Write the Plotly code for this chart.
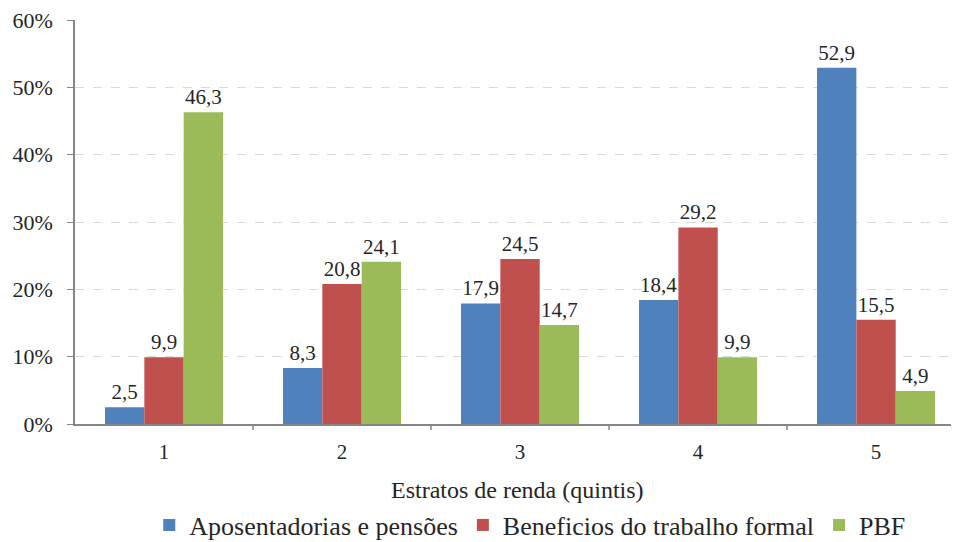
import plotly.graph_objects as go

quintis = ["1", "2", "3", "4", "5"]
aposentadorias = [2.5, 8.3, 17.9, 18.4, 52.9]
beneficios_formal = [9.9, 20.8, 24.5, 29.2, 15.5]
pbf = [46.3, 24.1, 14.7, 9.9, 4.9]

series = [
    ("Aposentadorias e pensões", aposentadorias, "#4F81BD"),
    ("Beneficios do trabalho formal", beneficios_formal, "#C0504D"),
    ("PBF", pbf, "#9BBB59"),
]

fonte = "Liberation Serif"

fig = go.Figure()
for nome, valores, cor in series:
    fig.add_trace(go.Bar(
        name=nome, x=quintis, y=valores,
        marker=dict(color=cor, line=dict(width=0)),
        texttemplate="%{y:.1f}", textposition="outside",
        textfont=dict(family=fonte, size=21, color="#262626"),
        cliponaxis=False,
    ))

# a página tem margem de 8px no body, por isso 951x534
fig.update_layout(
    template="none",
    barmode="group",
    bargap=0.337,
    bargroupgap=0,
    separators=",.",
    width=951, height=534,
    margin=dict(l=67, r=0, t=12, b=118, autoexpand=False),
    plot_bgcolor="white", paper_bgcolor="white",
    font=dict(family=fonte, size=21, color="#262626"),
    showlegend=True,
    legend=dict(orientation="h", x=0.515, xanchor="center", y=-0.25, yanchor="middle",
                font=dict(family=fonte, size=26, color="#262626"), itemwidth=30,
                traceorder="normal"),
    annotations=[dict(text="Estratos de renda (quintis)", x=0.5, xref="paper",
                      y=-0.163, yref="paper", yanchor="middle", showarrow=False,
                      font=dict(family=fonte, size=24, color="#262626"))],
)
fig.update_xaxes(
    type="category",
    range=[-0.5, 4.466], showline=True, linecolor="#868686", linewidth=1.5,
    ticks="", tickfont=dict(family=fonte, size=21), ticklabelstandoff=8,
    automargin=False, showgrid=False, zeroline=False,
)
fig.update_yaxes(
    range=[0, 60], tickvals=[0, 10, 20, 30, 40, 50, 60],
    ticktext=["0%", "10%", "20%", "30%", "40%", "50%", "60%"],
    showline=True, linecolor="#868686", linewidth=1.5,
    ticks="outside", ticklen=6, tickcolor="#868686",
    showgrid=True, gridcolor="#D9D9D9", griddash="dash", gridwidth=1,
    zeroline=False, tickfont=dict(family=fonte, size=22), automargin=False,
    ticklabeloverflow="allow", ticklabelstandoff=10,
)
# ticks entre as categorias
for i in range(1, 5):
    fig.add_shape(type="line", xref="x", yref="paper", x0=i - 0.5, x1=i - 0.5,
                  y0=0, y1=-0.015, line=dict(color="#868686", width=1.5))

fig.write_html("out.html")
